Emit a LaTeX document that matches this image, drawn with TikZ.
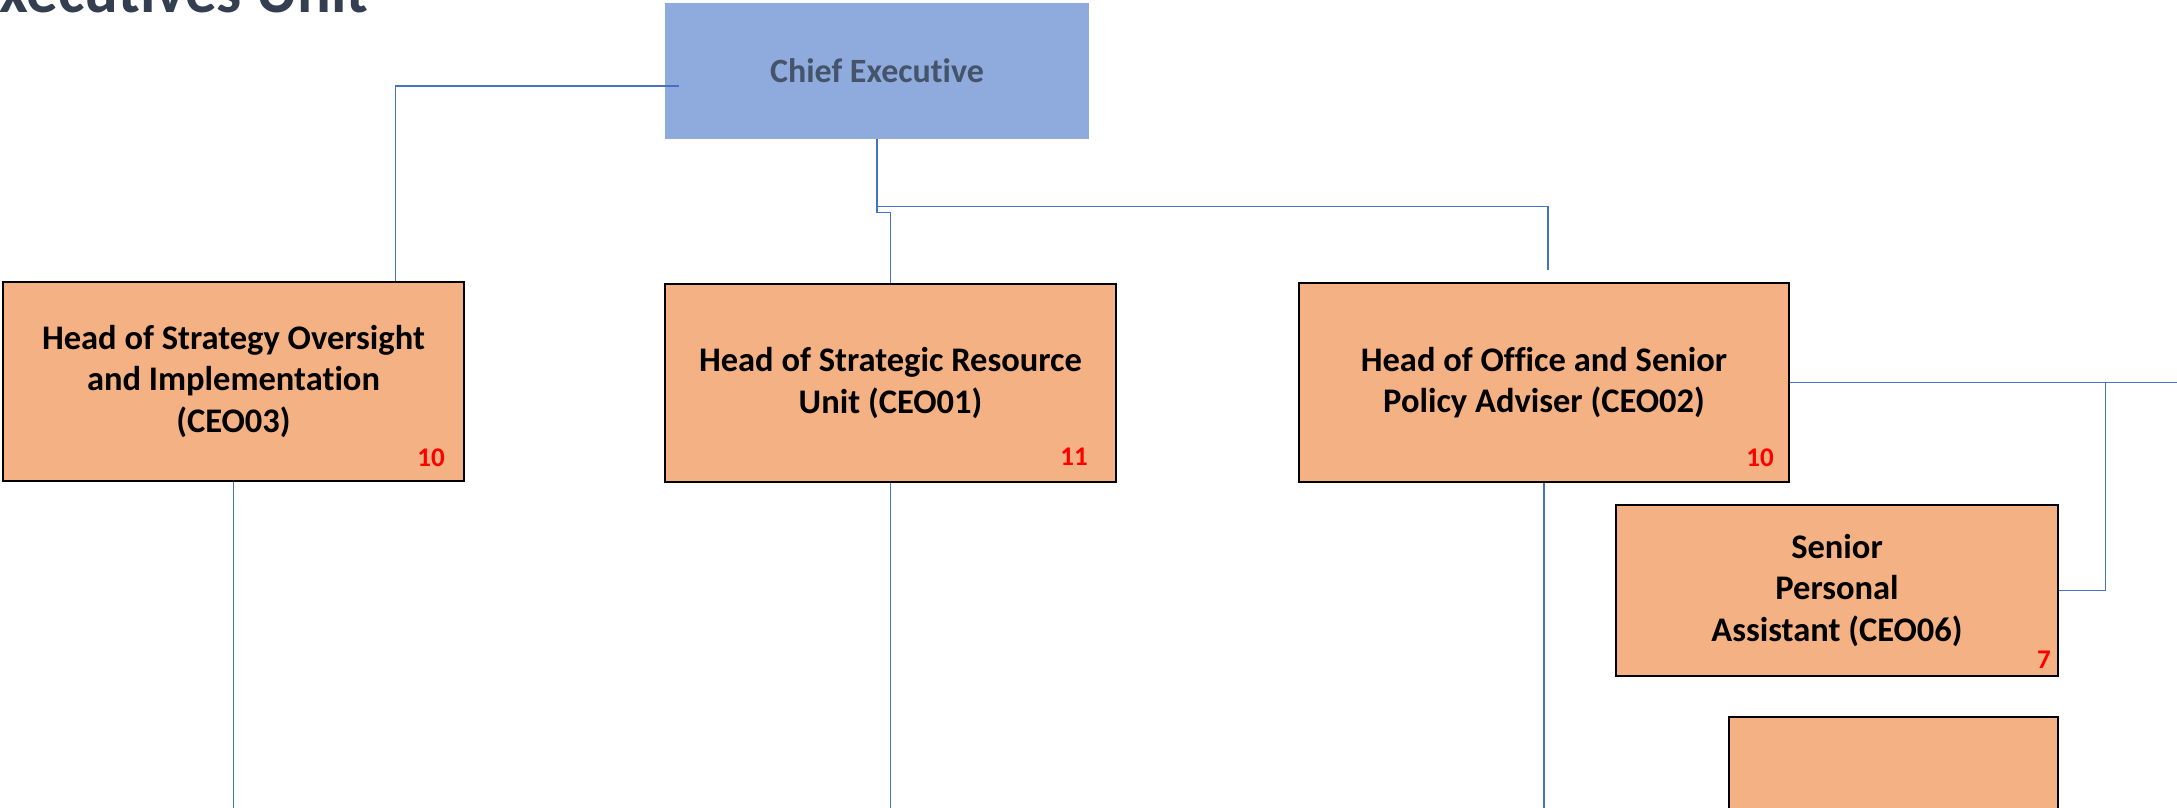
\documentclass[tikz,border=0pt]{standalone}
\usepackage{fontspec}
\setmainfont{Carlito}[Ligatures=NoCommon]

\definecolor{ceblue}{HTML}{8FAADC}
\definecolor{postorange}{HTML}{F4B183}
\definecolor{linkblue}{HTML}{4472C4}
\definecolor{slate}{HTML}{44546A}
\definecolor{darkslate}{HTML}{333F50}

\begin{document}
\begin{tikzpicture}[x=1pt, y=-1pt,
    every node/.style={font=\bfseries},
    post/.style={draw=black, line width=1.5pt, fill=postorange, align=center,
      inner sep=0pt, font=\bfseries\fontsize{34.5}{41.5}\selectfont},
    grade/.style={text=red, inner sep=0pt, font=\bfseries\fontsize{27}{27}\selectfont},
    link/.style={draw=linkblue, line width=1.2pt}]
  \useasboundingbox (0,0) rectangle (2177,808);

  % 見出し (上端で切れている)
  \node[anchor=base west, inner sep=0pt, text=darkslate,
    font=\bfseries\fontsize{63}{63}\selectfont] (title) at (-1,13) {xecutives Unit};

  % トップ
  \node[fill=ceblue, minimum width=424pt, minimum height=136pt, inner sep=0pt,
    text=slate, font=\bfseries\fontsize{34}{34}\selectfont] (ce) at (877,71) {Chief Executive};

  % 2段目のポスト
  \node[post, minimum width=461pt, minimum height=199pt] (ceo03) at (233.5,381.5)
    {Head of Strategy Oversight\\and Implementation\\(CEO03)};
  \node[post, minimum width=451pt, minimum height=198pt] (ceo01) at (890.5,383)
    {Head of Strategic Resource\\Unit (CEO01)};
  \node[post, minimum width=490pt, minimum height=199pt] (ceo02) at (1544,382.5)
    {Head of Office and Senior\\Policy Adviser (CEO02)};
  \node[post, minimum width=442pt, minimum height=171pt] (ceo06) at (1837,590.5)
    {Senior\\Personal\\Assistant (CEO06)};
  \node[post, minimum width=329pt, minimum height=183pt] (lower) at (1893.5,808.5) {};

  % 人数 (赤)
  \node[grade] (g03) at (431,458) {10};
  \node[grade] (g01) at (1074,457) {11};
  \node[grade] (g02) at (1760,458) {10};
  \node[grade] (g06) at (2044,660) {7};

  % 接続線
  \draw[link] ([shift={(14pt,-15pt)}]ce.west) -| ([xshift=162pt]ceo03.north);
  \draw[link] (ce.south) -- ++(0,73) -| (ceo01.north);
  \draw[link] (ce.south) -- ++(0,67) -| ([shift={(4pt,12pt)}]ceo02.north);
  \draw[link] (ceo02.east) -- ++(420,0);
  \draw[link] (ceo06.east) -- ++(47,0) |- (ceo02.east);

  % 下へ続く線
  \draw[link] (ceo03.south) -- ++(0,330);
  \draw[link] (ceo01.south) -- ++(0,330);
  \draw[link] (ceo02.south) -- ++(0,330);
\end{tikzpicture}
\end{document}
